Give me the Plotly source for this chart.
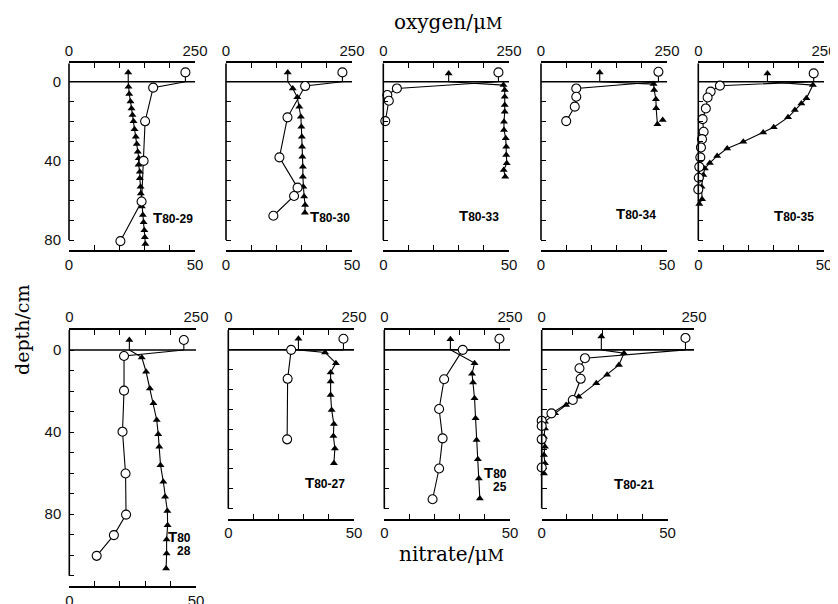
import plotly.graph_objects as go

# ---------------- data ----------------
panel_names = ["T80-29", "T80-30", "T80-33", "T80-34", "T80-35",
               "T80-28", "T80-27", "T80-25", "T80-21"]

# overlying-water values (plotted above the sediment surface)
ox_overlying = [231, 231, 229, 233, 229.5, 226, 229, 229, 236]
ox_over_depth = [-4.7, -4.7, -4.7, -5.0, -4.2, -4.9, -5.6, -5.6, -6.0]
no3_overlying = [23.5, 24.5, 26.0, 23.3, 27.5, 23.7, 27.9, 26.3, 23.7]
no3_over_depth = [-4.7, -4.7, -4.2, -4.7, -4.2, -4.9, -5.6, -5.4, -6.7]

# T80-29
t29_ox_depth = [3, 20, 40, 60.5, 80.5]
t29_ox = [167, 151, 148, 144, 102]
t29_no3_depth = [2.5, 6.2, 10, 13.5, 16.8, 20, 24, 27.8, 31.5, 35.4, 38.7, 42, 45.5,
                 48.8, 53, 56.4, 59.4, 63, 67.3, 71, 75, 78.6, 82]
t29_no3 = [23.6, 23.9, 24.4, 24.8, 25.2, 25.6, 26.0, 26.5, 26.9, 27.3, 27.7, 27.6, 28.1,
           28.1, 28.4, 28.5, 28.7, 28.9, 29.3, 29.6, 29.9, 30.1, 30.3]

# T80-30
t30_ox_depth = [2.2, 18, 38.2, 53.5, 57.7, 67.7]
t30_ox = [157, 122, 106, 142, 135, 94]
t30_no3_depth = [3.4, 7.9, 12.6, 17.7, 22.7, 27.8, 32.8, 37.9, 42.9, 48, 53, 58, 62.3, 66.2]
t30_no3 = [26.5, 28.3, 29.1, 29.7, 29.9, 30.1, 30.2, 30.3, 30.5, 30.5, 30.7, 31.0, 31.4, 31.3]

# T80-33
t33_ox_depth = [3.4, 6.7, 9.6, 19.9]
t33_ox = [27, 8, 11, 4]
t33_no3_depth = [1.7, 4.2, 7.6, 11.8, 15.2, 20.2, 24.4, 28.6, 32.8, 37, 41.2, 44.6, 48]
t33_no3 = [47.8, 48.3, 48.3, 48.3, 48.3, 48.0, 48.0, 48.7, 48.9, 48.9, 49.1, 47.9, 48.5]

# T80-34
t34_ox_depth = [3.4, 7.6, 12.6, 19.9]
t34_ox = [70, 70, 67, 50]
t34_no3_depth = [1.2, 4.2, 8.9, 13.4, 21.5]
t34_no3 = [44.7, 44.9, 45.6, 45.7, 46.2]
t34_no3_extra_depth = [19.4]
t34_no3_extra = [48.3]

# T80-35
t35_ox_depth = [2, 5, 8, 13.5, 18.9, 25.3, 29, 33.2, 38.2, 43, 48.5, 54.4]
t35_ox = [43, 24.5, 18.5, 15, 8.6, 10.6, 7.3, 5.3, 4, 2, 1, 0]
t35_no3_depth = [1.7, 8.4, 11, 14.3, 18, 23, 25.6, 30.3, 33.7, 37.5, 41, 43.8, 47.1, 53, 59.4, 61.8]
t35_no3 = [45.6, 43, 41, 38.4, 35.7, 30, 25.8, 17.9, 11.5, 7.5, 4.6, 2.6, 2, 1.3, 1.5, 0.4]

# T80-28
t28_ox_depth = [2.9, 19.8, 39.8, 60.2, 80.2, 90.2, 100.3]
t28_ox = [108, 108, 105, 111, 112, 88, 54]
t28_no3_depth = [3.6, 10.6, 18.7, 26, 34.1, 41, 47.2, 56.1, 64.2, 71.5, 78.4, 85.4, 92.4, 99.2, 106.5]
t28_no3 = [28.6, 30.3, 31.8, 33.2, 34.5, 35.1, 35.5, 36.0, 37.1, 37.8, 38.7, 38.8, 38.4, 38.4, 38.2]

# T80-27
t27_ox_depth = [0, 14.6, 45.1]
t27_ox = [125, 118, 117]
t27_no3_depth = [1.3, 6.7, 11.4, 16, 22.7, 30.3, 37.4, 43.4, 49.7, 57.2]
t27_no3 = [38.5, 42.8, 40.7, 40.7, 40.7, 41.1, 42.0, 41.8, 42.4, 42.0]

# T80-25
t25_ox_depth = [0, 14.8, 29.8, 44.6, 59.8, 75.3]
t25_ox = [156, 119, 109, 116, 109, 96]
t25_no3_depth = [6.7, 12.1, 16.5, 24.4, 34.5, 45.5, 55.2, 64.8, 74.9]
t25_no3 = [35.9, 34.9, 35.3, 35.9, 36.3, 36.7, 37.2, 37.6, 38.0]

# T80-21
t21_ox_depth = [4.2, 9.3, 14.6, 25.3, 32, 35.7, 38.4, 45.1, 59.3]
t21_ox = [71, 62, 64, 51, 16, 0, 0, 0, 0]
t21_no3_depth = [1.7, 7.6, 12.6, 16.8, 23.6, 27.8, 32, 36.2, 39.6, 43.8, 48.8, 53, 57.2, 62.3]
t21_no3 = [32.7, 30.7, 26.0, 21.7, 14.7, 9.7, 5.3, 1.3, 1.3, 0.9, 1.3, 0.9, 1.3, 0.9]

ox_depths = [t29_ox_depth, t30_ox_depth, t33_ox_depth, t34_ox_depth, t35_ox_depth,
             t28_ox_depth, t27_ox_depth, t25_ox_depth, t21_ox_depth]
ox_vals = [t29_ox, t30_ox, t33_ox, t34_ox, t35_ox, t28_ox, t27_ox, t25_ox, t21_ox]
no3_depths = [t29_no3_depth, t30_no3_depth, t33_no3_depth, t34_no3_depth, t35_no3_depth,
              t28_no3_depth, t27_no3_depth, t25_no3_depth, t21_no3_depth]
no3_vals = [t29_no3, t30_no3, t33_no3, t34_no3, t35_no3, t28_no3, t27_no3, t25_no3, t21_no3]

oxygen_ticks = [0, 50, 100, 150, 200, 250]
oxygen_ticktext = ["0", "", "", "", "", "250"]
nitrate_ticks = [0, 10, 20, 30, 40, 50]
nitrate_ticktext = ["0", "", "", "", "", "50"]
depth_labels = {0: "0", 40: "40", 80: "80"}

# ---------------- layout geometry (page pixels) ----------------
PAGE_OFF = 8            # default body margin of the html page
W, H = 838 - PAGE_OFF, 604 - PAGE_OFF


def fx(px):
    return (px - PAGE_OFF) / W


def fy(py):
    return 1 - (py - PAGE_OFF) / H


# left, right (nitrate), right (oxygen), top, bottom, depth at top, depth at bottom axis,
# end of depth axis line, show depth labels
geom = [
    (69.0, 195.0, 195.0, 63.3, 250.0, -9.3, 85, 80, True),
    (226.0, 352.0, 352.0, 63.3, 250.0, -9.3, 85, 80, False),
    (383.3, 509.0, 509.0, 63.3, 250.0, -9.3, 85, 80, False),
    (541.0, 667.0, 667.0, 63.3, 250.0, -9.3, 85, 80, False),
    (698.3, 824.0, 824.0, 63.3, 250.0, -9.3, 85, 80, False),
    (69.3, 196.0, 196.0, 330.0, 586.0, -9.75, 115, 110, True),
    (228.3, 354.0, 354.0, 330.0, 518.5, -10.0, 85, 80, False),
    (384.3, 510.0, 510.0, 330.0, 518.5, -10.0, 85, 80, False),
    (541.7, 667.5, 694.0, 330.0, 518.5, -10.0, 85, 80, False),
]
label_pos = [
    (32.4, 68.4), (32.4, 68.2), (29.4, 67.4), (28.9, 66.5), (29.3, 67.4),
    None, (29.9, 67.0), None, (28.0, 67.4),
]

TICKFONT = dict(family="Liberation Sans", size=15, color="#111")
AXW = 1.6
LW = 1.1

fig = go.Figure()
layout = dict(width=W, height=H, margin=dict(l=0, r=0, t=0, b=0, autoexpand=False),
              paper_bgcolor="white", plot_bgcolor="rgba(0,0,0,0)", showlegend=False)
shapes = []
annotations = []

for i in range(9):
    L, R, RO, T, B, dtop, dbot, dend, showlab = geom[i]
    nx_ref = "x" if i == 0 else f"x{2 * i + 1}"
    ox_ref = f"x{2 * i + 2}"
    y_ref = "y" if i == 0 else f"y{i + 1}"
    nx_key = "xaxis" if i == 0 else f"xaxis{2 * i + 1}"
    ox_key = f"xaxis{2 * i + 2}"
    y_key = "yaxis" if i == 0 else f"yaxis{i + 1}"

    common = dict(tickmode="array", ticks="inside", ticklen=5, tickwidth=1.3,
                  tickcolor="black", showgrid=False, tickfont=TICKFONT,
                  fixedrange=True, automargin=False)
    layout[nx_key] = dict(domain=[fx(L), fx(R)], anchor=y_ref, side="bottom",
                          range=[0, 50], tickvals=nitrate_ticks, ticktext=nitrate_ticktext,
                          showline=True, linewidth=AXW, linecolor="black", zeroline=False,
                          ticklabelstandoff=0, **common)
    ox_axis = dict(domain=[fx(L), fx(RO)], anchor=y_ref, side="top",
                   range=[0, 250], tickvals=oxygen_ticks, ticktext=oxygen_ticktext,
                   showline=True, linewidth=AXW, linecolor="black", zeroline=False,
                   ticklabelstandoff=0, **common)
    if RO == R:
        ox_axis["overlaying"] = nx_ref
    layout[ox_key] = ox_axis
    dvals = list(range(0, dend + 1, 10))
    dtext = [depth_labels.get(v, "") if showlab else "" for v in dvals]
    layout[y_key] = dict(domain=[fy(B), fy(T)], anchor=nx_ref, range=[dbot, dtop],
                         tickvals=dvals, ticktext=dtext, showline=False, zeroline=False,
                         ticklabelstandoff=7, **common)
    # depth axis line ends at the last depth tick
    shapes.append(dict(type="line", xref=f"{nx_ref} domain", yref=y_ref, x0=0, x1=0,
                       y0=dtop, y1=dend, line=dict(color="black", width=AXW)))
    # sediment surface (depth 0) across the full oxygen-axis width
    shapes.append(dict(type="line", xref=f"{ox_ref} domain", yref=y_ref, x0=0, x1=1,
                       y0=0, y1=0, line=dict(color="black", width=AXW), layer="below"))

    # ---- nitrate ----
    nv, nd = no3_vals[i], no3_depths[i]
    n0, n0d = no3_overlying[i], no3_over_depth[i]
    fig.add_trace(go.Scatter(x=[n0] + nv, y=[0] + nd, xaxis=nx_ref, yaxis=y_ref,
                             mode="lines", line=dict(color="black", width=LW),
                             hoverinfo="skip"))
    fig.add_trace(go.Scatter(x=[n0, n0], y=[n0d, 0], xaxis=nx_ref, yaxis=y_ref,
                             mode="lines", line=dict(color="black", width=LW),
                             hoverinfo="skip"))
    fig.add_trace(go.Scatter(x=[n0] + nv, y=[n0d] + nd, xaxis=nx_ref, yaxis=y_ref,
                             mode="markers", cliponaxis=False,
                             marker=dict(symbol="triangle-up", size=7, color="black"),
                             hoverinfo="skip"))
    if i == 3:
        fig.add_trace(go.Scatter(x=t34_no3_extra, y=t34_no3_extra_depth, xaxis=nx_ref,
                                 yaxis=y_ref, mode="markers",
                                 marker=dict(symbol="triangle-up", size=7, color="black"),
                                 hoverinfo="skip"))

    # ---- oxygen ----
    ov, od = ox_vals[i], ox_depths[i]
    o0, o0d = ox_overlying[i], ox_over_depth[i]
    fig.add_trace(go.Scatter(x=[o0] + ov, y=[0] + od, xaxis=ox_ref, yaxis=y_ref,
                             mode="lines", line=dict(color="black", width=LW),
                             hoverinfo="skip"))
    fig.add_trace(go.Scatter(x=[o0, o0], y=[o0d, 0], xaxis=ox_ref, yaxis=y_ref,
                             mode="lines", line=dict(color="black", width=LW),
                             hoverinfo="skip"))
    fig.add_trace(go.Scatter(x=[o0] + ov, y=[o0d] + od, xaxis=ox_ref, yaxis=y_ref,
                             mode="markers", cliponaxis=False,
                             marker=dict(symbol="circle", size=9, color="white",
                                         line=dict(color="black", width=1.1)),
                             hoverinfo="skip"))

    # ---- core label ----
    name = panel_names[i]
    code = name[1:]
    if label_pos[i] is not None:
        lx, ly = label_pos[i]
        annotations.append(dict(xref=nx_ref, yref=y_ref, x=lx, y=ly, xanchor="left",
                                yanchor="middle", showarrow=False,
                                text=f"<b>T<span style='font-size:12px'>{code}</span></b>",
                                font=dict(family="Liberation Sans", size=15, color="black")))
    else:
        top_part, bottom_part = code.split("-")
        if i == 5:
            lx, ly1, ly2 = 49.0, 91.0, 97.9
        else:
            lx, ly1, ly2 = 49.5, 61.6, 69.2
        annotations.append(dict(xref=nx_ref, yref=y_ref, x=lx, y=ly1, xanchor="right",
                                yanchor="middle", showarrow=False,
                                text=f"<b>T<span style='font-size:12px'>{top_part}</span></b>",
                                font=dict(family="Liberation Sans", size=15, color="black")))
        annotations.append(dict(xref=nx_ref, yref=y_ref, x=lx, y=ly2, xanchor="right",
                                yanchor="middle", showarrow=False,
                                text=f"<b>{bottom_part}</b>",
                                font=dict(family="Liberation Sans", size=12, color="black")))

TITLEFONT = dict(family="DejaVu Serif", size=20, color="black")
annotations.append(dict(xref="paper", yref="paper", x=fx(448), y=fy(22),
                        xanchor="center", yanchor="middle", showarrow=False,
                        text="oxygen/μ<span style='font-size:16px'>M</span>", font=TITLEFONT))
annotations.append(dict(xref="paper", yref="paper", x=fx(451), y=fy(554),
                        xanchor="center", yanchor="middle", showarrow=False,
                        text="nitrate/μ<span style='font-size:16px'>M</span>", font=TITLEFONT))
annotations.append(dict(xref="paper", yref="paper", x=fx(22), y=fy(330),
                        xanchor="center", yanchor="middle", showarrow=False, textangle=-90,
                        text="depth/cm", font=dict(family="DejaVu Serif", size=19, color="black")))

layout["shapes"] = shapes
layout["annotations"] = annotations
fig.update_layout(**layout)
fig.write_html("out.html")
